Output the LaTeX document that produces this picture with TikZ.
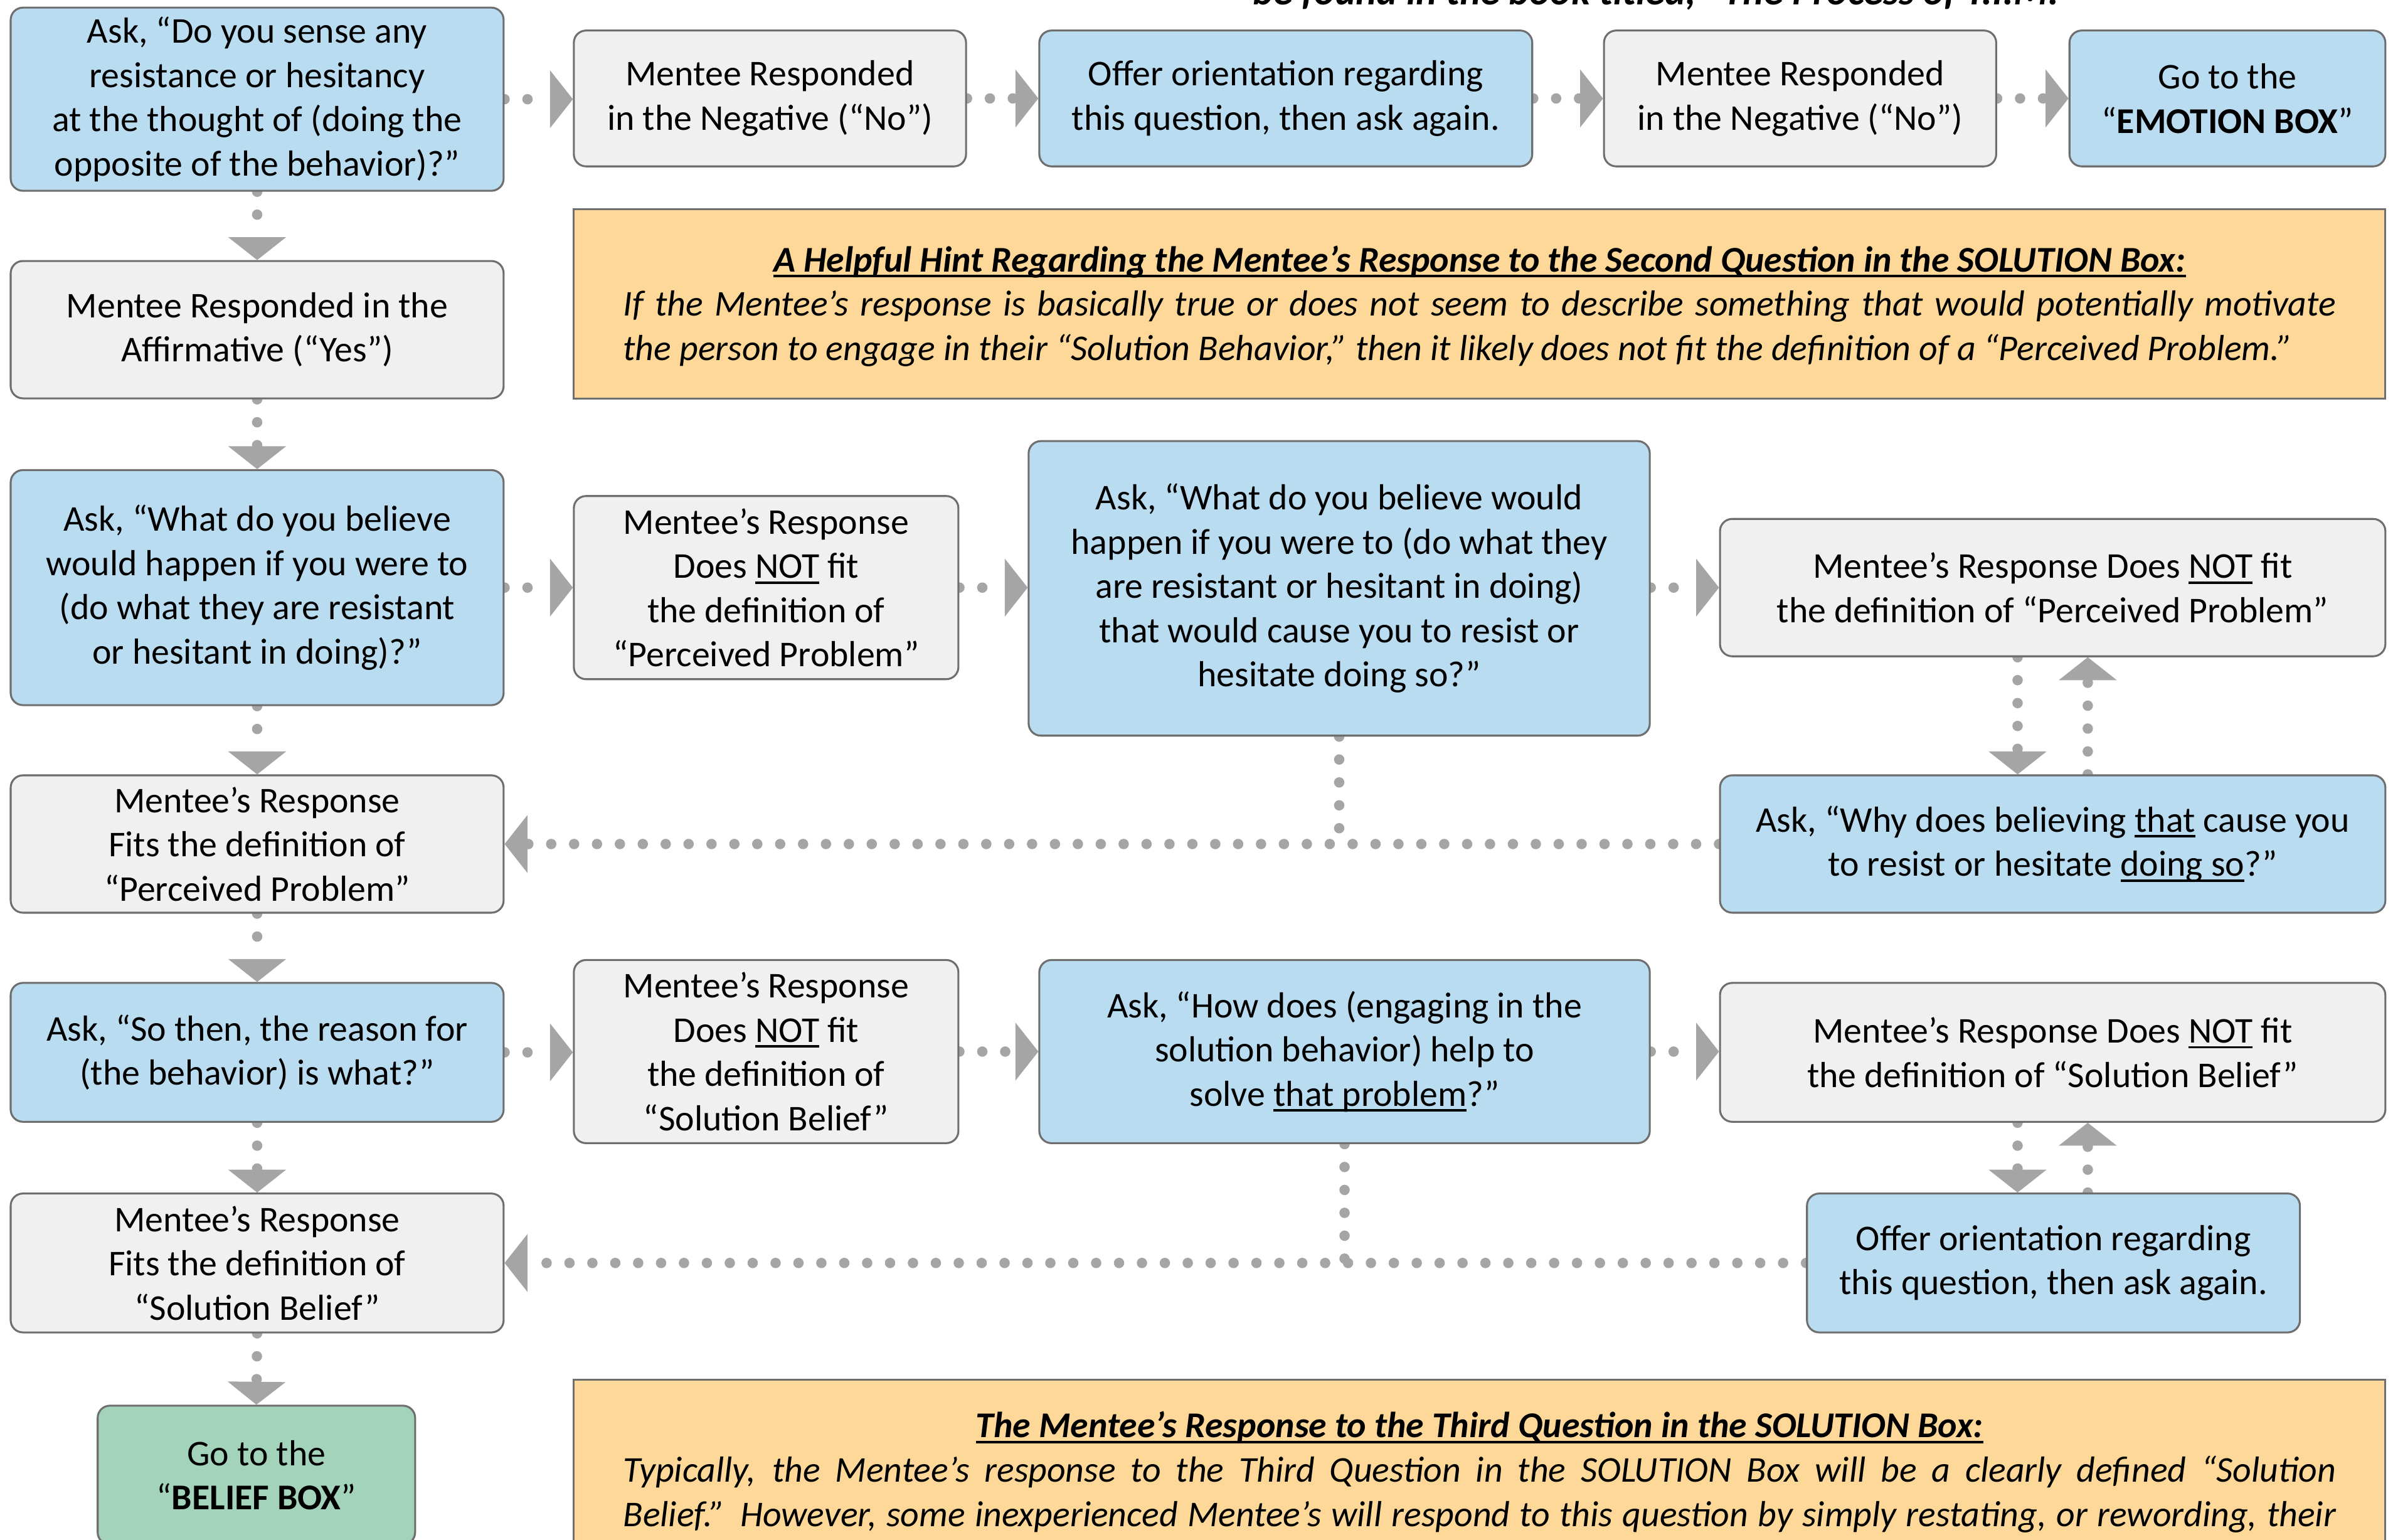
\documentclass[tikz,border=0pt]{standalone}
\usepackage{fontspec}
\setmainfont{Carlito}
\usetikzlibrary{arrows.meta,backgrounds}
\newsavebox{\ulbox}
\newcommand{\myul}[1]{\sbox{\ulbox}{#1}\rlap{\rule[-2.6pt]{\wd\ulbox}{1.1pt}}\usebox{\ulbox}}
\definecolor{boxblue}{HTML}{BADCF1}
\definecolor{boxgray}{HTML}{F0F0F0}
\definecolor{boxgreen}{HTML}{A3D3BA}
\definecolor{hintorange}{HTML}{FDD898}
\definecolor{bordergray}{HTML}{6E6E6E}
\definecolor{arrowgray}{HTML}{A5A5A5}
\newcommand{\mainsize}{\fontsize{16.9}{20.6}\selectfont}
\begin{document}
\begin{tikzpicture}[x=0.025cm,y=-0.025cm,
  basebox/.style={draw=bordergray, line width=0.9pt, rounded corners=0.2cm, align=center, font=\mainsize, inner sep=2pt},
  bluebox/.style={basebox, fill=boxblue},
  graybox/.style={basebox, fill=boxgray},
  greenbox/.style={basebox, fill=boxgreen},
  hintbox/.style={draw=bordergray, line width=0.9pt, fill=hintorange, inner sep=0pt},
  sz/.style 2 args={minimum width=#1*0.025cm, minimum height=#2*0.025cm},
  hinttext/.style={font=\mainsize, inner sep=0pt, anchor=base},
  conn/.style={draw=arrowgray, line width=0.17cm, line cap=round, dash pattern=on 0pt off 0.375cm,
    -{Triangle[length=0.375cm, width=0.95cm, line width=0pt, fill=arrowgray]}},
  connplain/.style={draw=arrowgray, line width=0.17cm, line cap=round, dash pattern=on 0pt off 0.375cm}
]
\useasboundingbox (0,0) rectangle (1568,1009);

% cut-off text at top (cut off in the reference as well)
\node[font=\fontsize{18.4}{22}\selectfont\bfseries\itshape, anchor=base, inner sep=0pt] (cut) at (1085,3) {be found in the book titled, “The Process of T.I.M.};

% row 1
\node[bluebox, sz={323}{120}] (A) at (168.5,65) {Ask, “Do you sense any\\resistance or hesitancy\\at the thought of (doing the\\opposite of the behavior)?”};
\node[graybox, sz={257}{89}] (B) at (504.5,64.5) {Mentee Responded\\in the Negative (“No”)};
\node[bluebox, sz={323}{89}] (C) at (842.5,64.5) {Offer orientation regarding\\this question, then ask again.};
\node[graybox, sz={257}{89}] (D) at (1179.5,64.5) {Mentee Responded\\in the Negative (“No”)};
\node[bluebox, sz={207}{89}] (E) at (1459.5,64.5) {Go to the\\“\textbf{EMOTION BOX}”};

% hint 1
\node[hintbox, sz={1187}{124}] (hintA) at (969.5,199) {};
\node[hinttext] (hintAt) at (969.5,178) {\bfseries\itshape\myul{A Helpful Hint Regarding the Mentee’s Response to the Second Question in the SOLUTION Box:}};
\node[hinttext] (hintA1) at (969.5,207) {\makebox[28.05cm][s]{\itshape If the Mentee’s response is basically true or does not seem to describe something that would potentially motivate}};
\node[hinttext] (hintA2) at (969.5,236) {\makebox[28.05cm][l]{\itshape the person to engage in their “Solution Behavior,” then it likely does not fit the definition of a “Perceived Problem.”}};

% row 2
\node[graybox, sz={323}{90}] (F) at (168.5,216) {Mentee Responded in the\\Affirmative (“Yes”)};

% row 3
\node[bluebox, sz={323}{154}] (G) at (168.5,385) {Ask, “What do you believe\\would happen if you were to\\(do what they are resistant\\or hesitant in doing)?”};
\node[graybox, sz={252}{120}] (H) at (502,385) {Mentee’s Response\\Does \myul{NOT} fit\\the definition of\\“Perceived Problem”};
\node[bluebox, sz={407}{193}] (I) at (877.5,385.5) {Ask, “What do you believe would\\happen if you were to (do what they\\are resistant or hesitant in doing)\\that would cause you to resist or\\hesitate doing so?”};
\node[graybox, sz={436}{90}] (J) at (1345,385) {Mentee’s Response Does \myul{NOT} fit\\the definition of “Perceived Problem”};

% row 4
\node[graybox, sz={323}{90}] (K) at (168.5,553) {Mentee’s Response\\Fits the definition of\\“Perceived Problem”};
\node[bluebox, sz={436}{90}] (L) at (1345,553) {Ask, “Why does believing \myul{that} cause you\\to resist or hesitate \myul{doing so}?”};

% row 5
\node[bluebox, sz={323}{91}] (M) at (168.5,689.5) {Ask, “So then, the reason for\\(the behavior) is what?”};
\node[graybox, sz={252}{120}] (N) at (502,689) {Mentee’s Response\\Does \myul{NOT} fit\\the definition of\\“Solution Belief”};
\node[bluebox, sz={400}{120}] (O) at (881,689) {Ask, “How does (engaging in the\\solution behavior) help to\\solve \myul{that problem}?”};
\node[graybox, sz={436}{91}] (P) at (1345,689.5) {Mentee’s Response Does \myul{NOT} fit\\the definition of “Solution Belief”};

% row 6
\node[graybox, sz={323}{91}] (Q) at (168.5,827.5) {Mentee’s Response\\Fits the definition of\\“Solution Belief”};
\node[bluebox, sz={323}{91}] (R) at (1345.5,827.5) {Offer orientation regarding\\this question, then ask again.};

% row 7
\node[greenbox, sz={208}{91}] (S) at (168,966.5) {Go to the\\“\textbf{BELIEF BOX}”};
\node[hintbox, sz={1187}{196}] (hintB) at (969.5,1002) {};
\node[hinttext] (hintBt) at (969.5,942) {\bfseries\itshape\myul{The Mentee’s Response to the Third Question in the SOLUTION Box:}};
\node[hinttext] (hintB1) at (969.5,971) {\makebox[28.05cm][s]{\itshape Typically, the Mentee’s response to the Third Question in the SOLUTION Box will be a clearly defined “Solution}};
\node[hinttext] (hintB2) at (969.5,1000) {\makebox[28.05cm][s]{\itshape Belief.” However, some inexperienced Mentee’s will respond to this question by simply restating, or rewording, their}};

\coordinate (c1) at (1322,0);
\coordinate (c2) at (1368,0);

\begin{pgfonlayer}{background}
\fill[white] (0,0) rectangle (1568,1009);
\draw[conn] (A.east) -- (A.east -| B.west);
\draw[conn] (B.east) -- (B.east -| C.west);
\draw[conn] (C.east) -- (C.east -| D.west);
\draw[conn] (D.east) -- (D.east -| E.west);
\draw[conn] (A.south) -- (F.north);
\draw[conn] (F.south) -- (G.north);
\draw[conn] (G.east) -- (G.east -| H.west);
\draw[conn] (H.east) -- (H.east -| I.west);
\draw[conn] (H.east -| I.east) -- (H.east -| J.west);
\draw[conn] (G.south) -- (K.north);
\draw[conn] (J.south -| c1) -- (L.north -| c1);
\draw[conn] (L.north -| c2) -- (J.south -| c2);
\draw[conn] (L.west) -- (L.west -| K.east);
\draw[connplain] (I.south) -- (I.south |- K.east);
\draw[conn] (K.south) -- (M.north);
\draw[conn] (M.east) -- (M.east -| N.west);
\draw[conn] (N.east) -- (N.east -| O.west);
\draw[conn] (O.east) -- (O.east -| P.west);
\draw[conn] (M.south) -- (Q.north);
\draw[conn] (P.south -| c1) -- (R.north -| c1);
\draw[conn] (R.north -| c2) -- (P.south -| c2);
\draw[conn] (R.west) -- (R.west -| Q.east);
\draw[connplain] (O.south) -- (O.south |- Q.east);
\draw[conn] (Q.south) -- (S.north);
\end{pgfonlayer}
\end{tikzpicture}
\end{document}
